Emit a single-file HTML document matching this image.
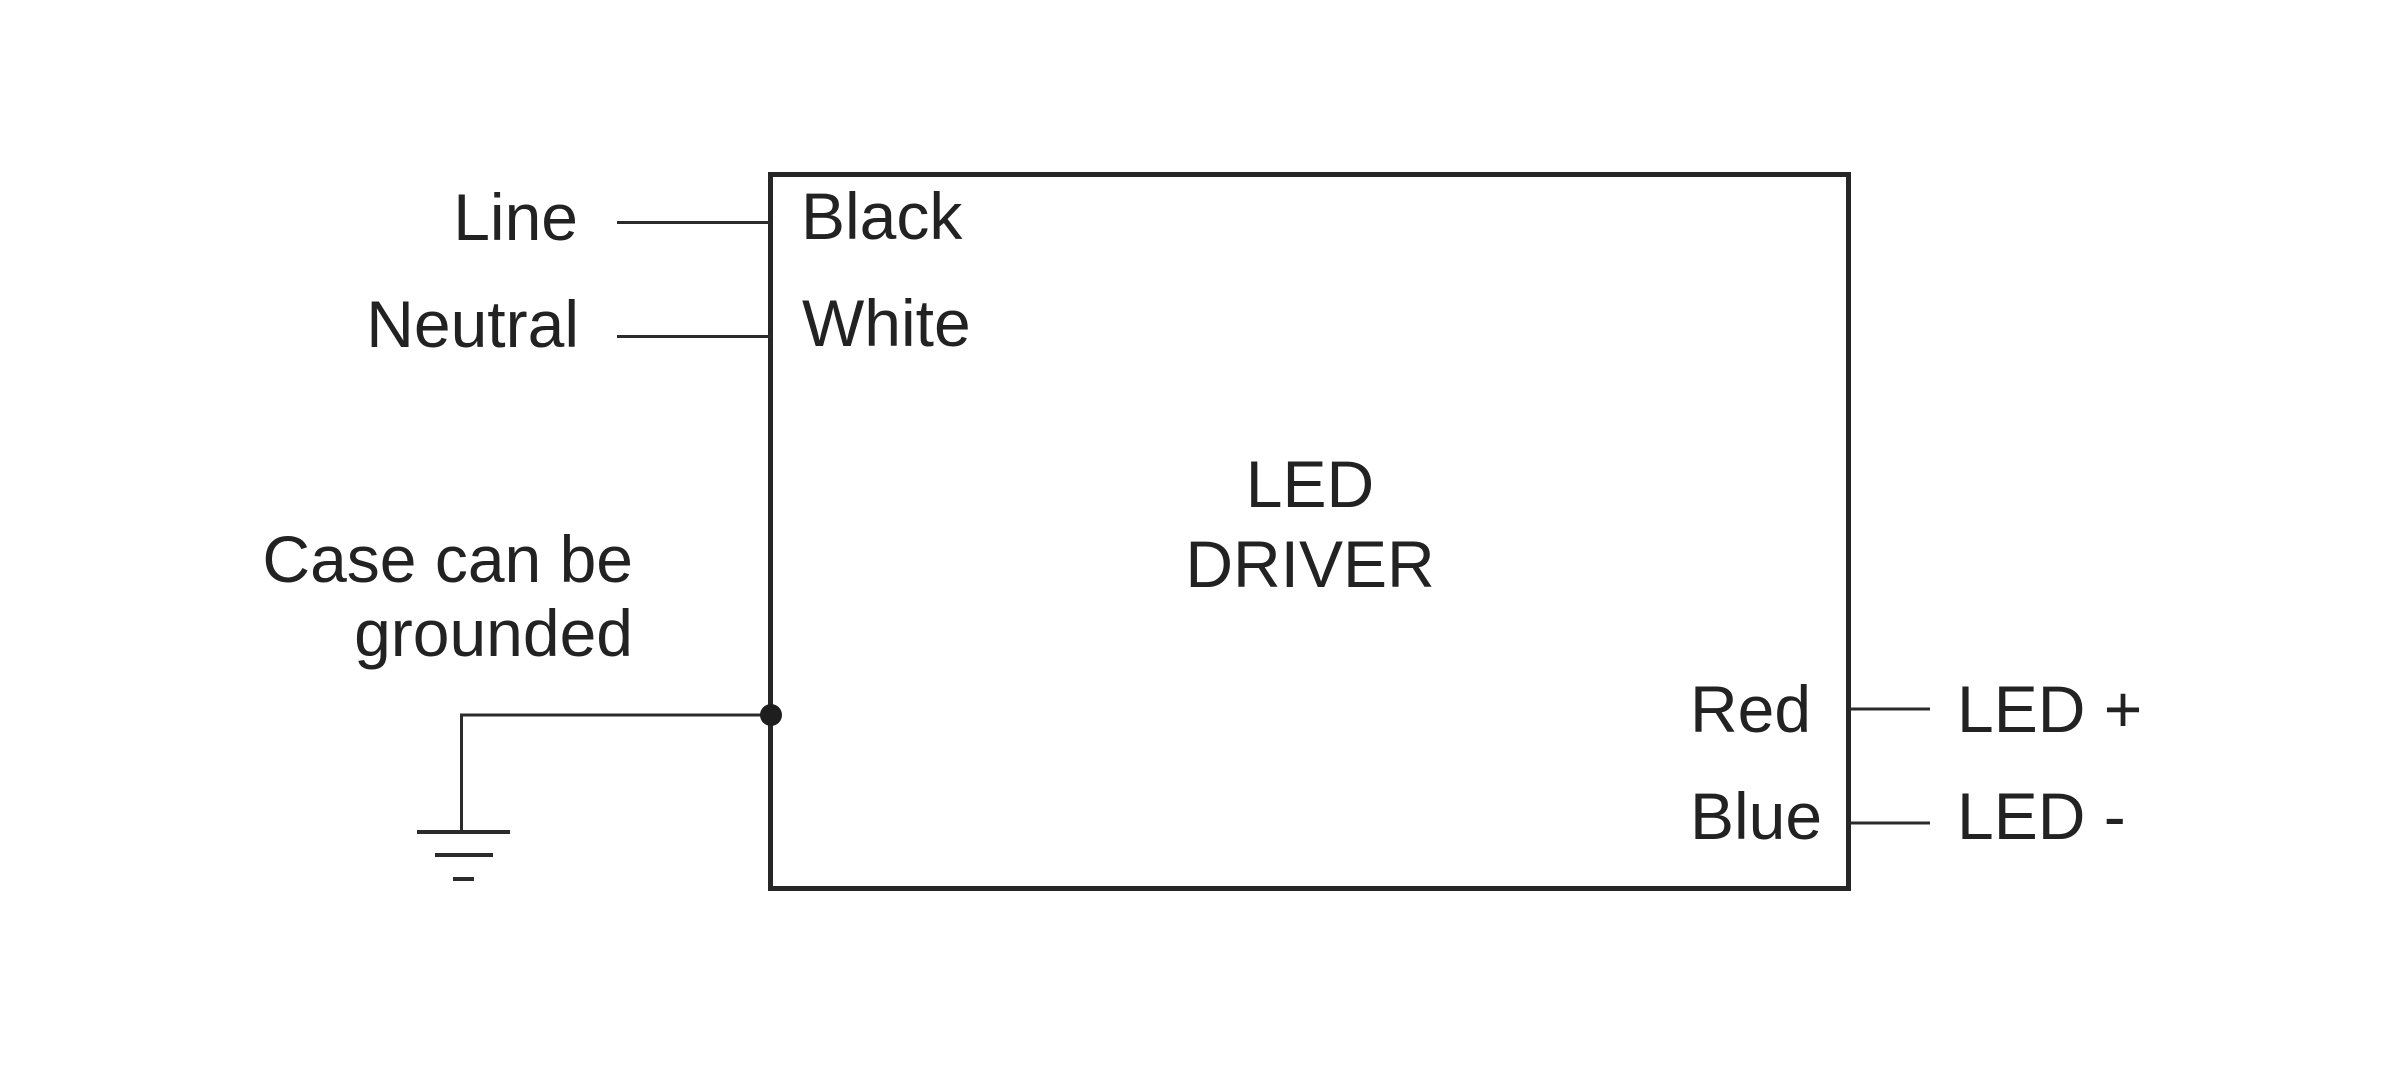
<!DOCTYPE html>
<html>
<head>
<meta charset="utf-8">
<style>
  html, body { margin: 0; padding: 0; background: #ffffff; }
  body { width: 2400px; height: 1066px; overflow: hidden; }
  svg { display: block; }
  text { font-family: "Liberation Sans", Arial, sans-serif; fill: #222222; }
</style>
</head>
<body>
<svg width="2400" height="1066" viewBox="0 0 2400 1066" xmlns="http://www.w3.org/2000/svg">
  <rect x="0" y="0" width="2400" height="1066" fill="#ffffff"/>

  <!-- LED driver box -->
  <rect x="770.5" y="174.5" width="1078" height="714" fill="none" stroke="#262626" stroke-width="5"/>

  <!-- Input wires -->
  <line x1="617" y1="222.5" x2="770" y2="222.5" stroke="#2b2b2b" stroke-width="3"/>
  <line x1="617" y1="336.5" x2="770" y2="336.5" stroke="#2b2b2b" stroke-width="3"/>

  <!-- Output wires -->
  <line x1="1849" y1="709" x2="1930" y2="709" stroke="#2b2b2b" stroke-width="3"/>
  <line x1="1849" y1="823" x2="1930" y2="823" stroke="#2b2b2b" stroke-width="3"/>

  <!-- Ground wire -->
  <polyline points="770,715 461.5,715 461.5,832" fill="none" stroke="#2b2b2b" stroke-width="3"/>
  <circle cx="771" cy="715" r="11" fill="#1e1e1e"/>

  <!-- Ground symbol -->
  <line x1="417" y1="832" x2="510" y2="832" stroke="#2b2b2b" stroke-width="4"/>
  <line x1="435" y1="855" x2="493" y2="855" stroke="#2b2b2b" stroke-width="4"/>
  <line x1="453" y1="879" x2="474" y2="879" stroke="#2b2b2b" stroke-width="4"/>

  <!-- Left labels -->
  <text x="578" y="240" font-size="66" text-anchor="end">Line</text>
  <text x="579" y="347" font-size="66" text-anchor="end">Neutral</text>
  <text x="633" y="582" font-size="66" text-anchor="end">Case can be</text>
  <text x="633" y="656" font-size="66" text-anchor="end">grounded</text>

  <!-- Inside box labels -->
  <text x="801" y="239" font-size="66">Black</text>
  <text x="802" y="346" font-size="66">White</text>
  <text x="1310" y="507" font-size="66" text-anchor="middle">LED</text>
  <text x="1310" y="587" font-size="66" text-anchor="middle">DRIVER</text>
  <text x="1690" y="732" font-size="66">Red</text>
  <text x="1690" y="839" font-size="66">Blue</text>

  <!-- Right labels -->
  <text x="1957" y="732" font-size="66">LED +</text>
  <text x="1957" y="839" font-size="66">LED -</text>
</svg>
</body>
</html>
